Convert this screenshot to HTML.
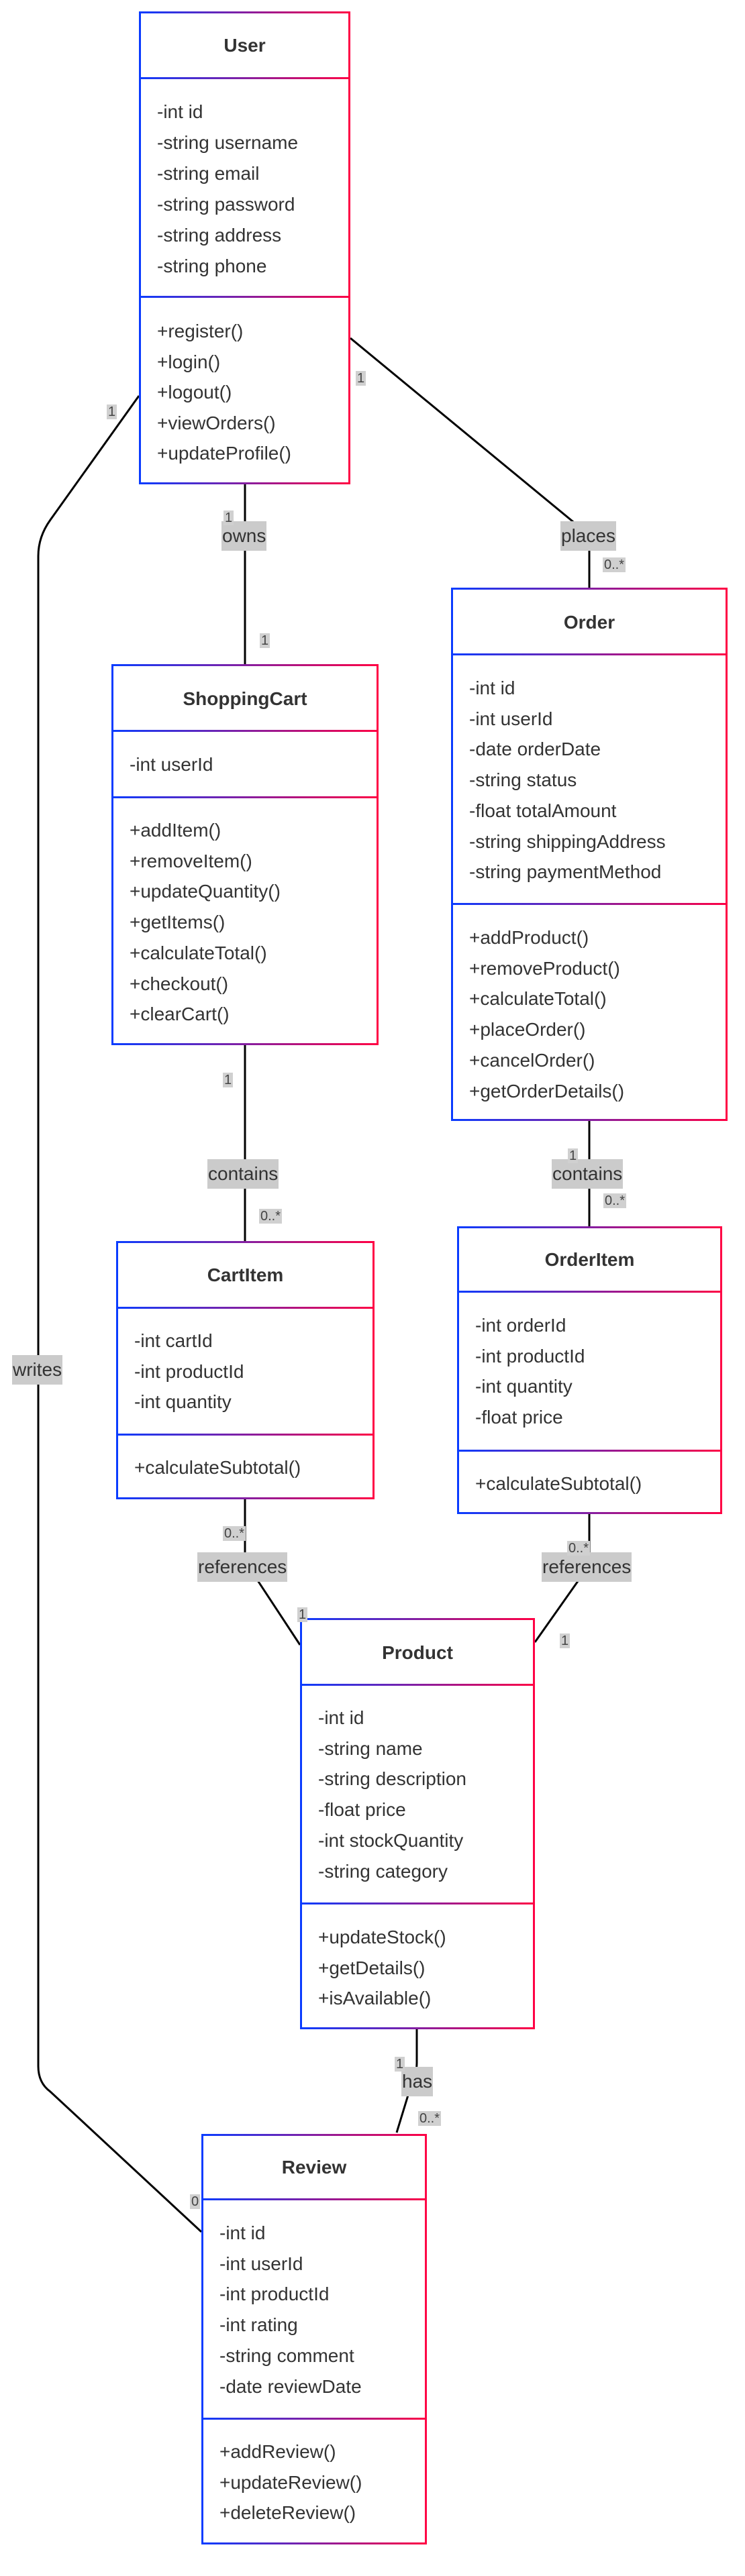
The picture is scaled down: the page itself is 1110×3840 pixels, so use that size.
<!DOCTYPE html>
<html><head><meta charset="utf-8"><style>
*{margin:0;padding:0;box-sizing:border-box}
body{width:1110px;height:3840px;background:#fff;position:relative;overflow:hidden;font-family:"Liberation Sans",Arial,sans-serif;color:#333}
svg{position:absolute;left:0;top:0}
.box{position:absolute;border:3px solid;border-image:linear-gradient(to right,#0a3cff,#ff0044) 1;background:#fff}
.dv{position:absolute;left:-3px;right:-3px;height:3px;background:linear-gradient(to right,#0a3cff,#ff0044)}
.ti{position:absolute;left:0;right:0;text-align:center;font-weight:bold;font-size:28px;line-height:46px}
.t{position:absolute;left:24px;font-size:28px;line-height:45.7px;white-space:nowrap}
.lb{position:absolute;background:#cbcbcb;font-size:28px;line-height:44px;padding:0 1px;color:#333;white-space:nowrap}
.m{position:absolute;background:#d0d0d0;font-size:20px;line-height:22px;padding:0 2px;color:#444;white-space:nowrap}
</style></head><body>
<svg width="1110" height="3840" fill="none" stroke="#000" stroke-width="3">
<path d="M207,590 L75,775 Q57,800 57,829 L57,3080 Q57,3105 75,3118 L300,3327"/>
<path d="M522,504 L853,777 Q878,800 878,820 L878,876"/>
<path d="M365,722 L365,990"/>
<path d="M365,1558 L365,1850"/>
<path d="M878,1671 L878,1828"/>
<path d="M365,2235 L365,2320 Q365,2332 378,2347 L447,2452"/>
<path d="M878,2257 L878,2320 Q878,2335 866,2350 L797,2448"/>
<path d="M621,3025 L621,3075 Q621,3095 609,3120 L591,3179"/>
</svg>

<div class="box" style="left:207px;top:17px;width:315px;height:705px">
<div class="ti" style="top:25px">User</div><div class="dv" style="top:95px"></div>
<div class="t" style="top:124px;line-height:46px">-int id<br>-string username<br>-string email<br>-string password<br>-string address<br>-string phone</div>
<div class="dv" style="top:421px"></div>
<div class="t" style="top:451px;line-height:45.6px">+register()<br>+login()<br>+logout()<br>+viewOrders()<br>+updateProfile()</div>
</div>

<div class="box" style="left:166px;top:990px;width:398px;height:568px">
<div class="ti" style="top:26px">ShoppingCart</div><div class="dv" style="top:95px"></div>
<div class="t" style="top:124px">-int userId</div>
<div class="dv" style="top:194px"></div>
<div class="t" style="top:222px">+addItem()<br>+removeItem()<br>+updateQuantity()<br>+getItems()<br>+calculateTotal()<br>+checkout()<br>+clearCart()</div>
</div>

<div class="box" style="left:672px;top:876px;width:412px;height:795px">
<div class="ti" style="top:26px">Order</div><div class="dv" style="top:95px"></div>
<div class="t" style="top:124px">-int id<br>-int userId<br>-date orderDate<br>-string status<br>-float totalAmount<br>-string shippingAddress<br>-string paymentMethod</div>
<div class="dv" style="top:467px"></div>
<div class="t" style="top:496px">+addProduct()<br>+removeProduct()<br>+calculateTotal()<br>+placeOrder()<br>+cancelOrder()<br>+getOrderDetails()</div>
</div>

<div class="box" style="left:173px;top:1850px;width:385px;height:385px">
<div class="ti" style="top:25px">CartItem</div><div class="dv" style="top:95px"></div>
<div class="t" style="top:123px">-int cartId<br>-int productId<br>-int quantity</div>
<div class="dv" style="top:284px"></div>
<div class="t" style="top:312px">+calculateSubtotal()</div>
</div>

<div class="box" style="left:681px;top:1828px;width:395px;height:429px">
<div class="ti" style="top:24px">OrderItem</div><div class="dv" style="top:93px"></div>
<div class="t" style="top:122px">-int orderId<br>-int productId<br>-int quantity<br>-float price</div>
<div class="dv" style="top:330px"></div>
<div class="t" style="top:358px">+calculateSubtotal()</div>
</div>

<div class="box" style="left:447px;top:2412px;width:350px;height:613px">
<div class="ti" style="top:26px">Product</div><div class="dv" style="top:95px"></div>
<div class="t" style="top:123px">-int id<br>-string name<br>-string description<br>-float price<br>-int stockQuantity<br>-string category</div>
<div class="dv" style="top:421px"></div>
<div class="t" style="top:450px">+updateStock()<br>+getDetails()<br>+isAvailable()</div>
</div>

<div class="box" style="left:300px;top:3181px;width:336px;height:612px">
<div class="ti" style="top:24px">Review</div><div class="dv" style="top:93px"></div>
<div class="t" style="top:122px">-int id<br>-int userId<br>-int productId<br>-int rating<br>-string comment<br>-date reviewDate</div>
<div class="dv" style="top:420px"></div>
<div class="t" style="top:448px">+addReview()<br>+updateReview()<br>+deleteReview()</div>
</div>

<div class="lb" style="left:330px;top:777px">owns</div>
<div class="lb" style="left:835px;top:777px">places</div>
<div class="lb" style="left:309px;top:1728px">contains</div>
<div class="lb" style="left:822px;top:1728px">contains</div>
<div class="lb" style="left:18px;top:2020px">writes</div>
<div class="lb" style="left:294px;top:2314px">references</div>
<div class="lb" style="left:807px;top:2314px">references</div>
<div class="lb" style="left:598px;top:3081px">has</div>

<div class="m" style="left:333px;top:761px">1</div>
<div class="m" style="left:387px;top:944px">1</div>
<div class="m" style="left:159px;top:603px">1</div>
<div class="m" style="left:530px;top:553px">1</div>
<div class="m" style="left:898px;top:831px">0..*</div>
<div class="m" style="left:332px;top:1599px">1</div>
<div class="m" style="left:386px;top:1802px">0..*</div>
<div class="m" style="left:846px;top:1712px">1</div>
<div class="m" style="left:899px;top:1779px">0..*</div>
<div class="m" style="left:332px;top:2275px">0..*</div>
<div class="m" style="left:845px;top:2297px">0..*</div>
<div class="m" style="left:443px;top:2396px">1</div>
<div class="m" style="left:834px;top:2435px">1</div>
<div class="m" style="left:588px;top:3066px">1</div>
<div class="m" style="left:623px;top:3147px">0..*</div>
<div class="m" style="left:283px;top:3271px">0</div>
</body></html>
